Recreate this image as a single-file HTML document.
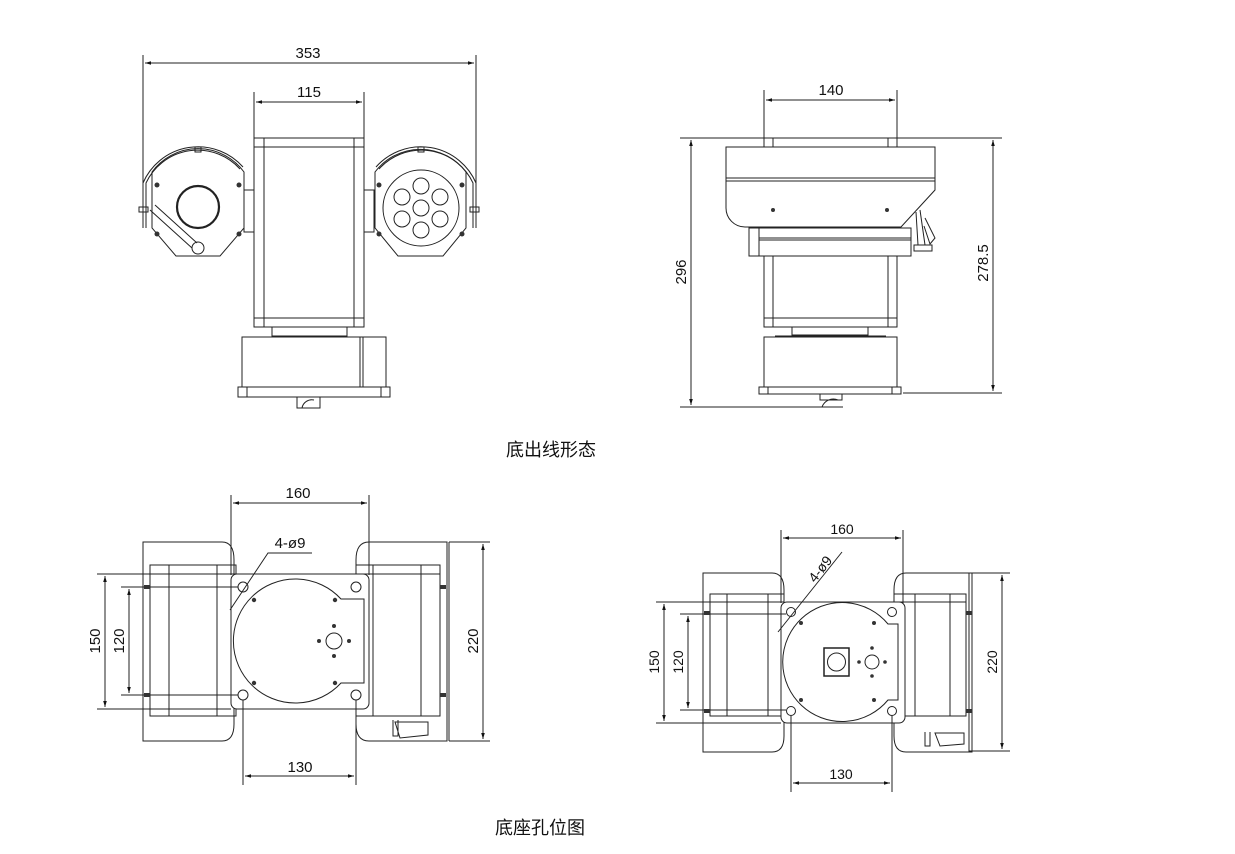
<!DOCTYPE html>
<html><head><meta charset="utf-8"><style>
html,body{margin:0;padding:0;background:#fff}
svg{display:block}
text{font-family:"Liberation Sans","Noto Sans CJK SC",sans-serif;fill:#111}
</style></head><body>
<svg width="1235" height="854" viewBox="0 0 1235 854" xmlns="http://www.w3.org/2000/svg">
<defs>
<marker id="a" viewBox="0 0 10 10" refX="10" refY="5" markerWidth="10" markerHeight="6" orient="auto-start-reverse" markerUnits="userSpaceOnUse"><path d="M0,2 L10,5 L0,8 z" fill="#111"/></marker>
</defs>
<g fill="none" stroke="#222" stroke-width="1">
<!-- ===== FRONT VIEW ===== -->
<line x1="143" y1="55" x2="143" y2="228"/><line x1="476" y1="55" x2="476" y2="228"/>
<line x1="145" y1="63" x2="474" y2="63" marker-start="url(#a)" marker-end="url(#a)"/>
<line x1="254" y1="92" x2="254" y2="138"/><line x1="364" y1="92" x2="364" y2="138"/>
<line x1="256" y1="102" x2="362" y2="102" marker-start="url(#a)" marker-end="url(#a)"/>
<rect x="254" y="138" width="110" height="189"/>
<line x1="264" y1="138" x2="264" y2="327"/><line x1="354" y1="138" x2="354" y2="327"/>
<line x1="254" y1="147" x2="364" y2="147"/><line x1="254" y1="318" x2="364" y2="318"/>
<rect x="272" y="327" width="75" height="9"/>
<rect x="242" y="337" width="144" height="50"/>
<line x1="360" y1="337" x2="360" y2="387"/><line x1="363" y1="337" x2="363" y2="387"/>
<rect x="238" y="387" width="152" height="10"/>
<line x1="247" y1="387" x2="247" y2="397"/><line x1="381" y1="387" x2="381" y2="397"/>
<rect x="297" y="397" width="23" height="11"/>
<path d="M302,408 A10,10 0 0 1 314,400"/>
<!-- left head -->
<rect x="244" y="190" width="10" height="42"/>
<path d="M152,172 L152,228 L176,256 L220,256 L244,228 L244,172 A57,57 0 0 0 152,172 Z"/>
<path d="M143,228 L143,183 A60,60 0 0 1 243,167" />
<path d="M146,228 L146,183 A57,57 0 0 1 240,169"/>
<rect x="195" y="147" width="6" height="5"/>
<circle cx="198" cy="207" r="21" stroke-width="2.2"/>
<path d="M150,210 L192,248 M155,205 L197,243" />
<circle cx="198" cy="248" r="6"/>
<rect x="139" y="207" width="9" height="5"/>
<!-- right head -->
<rect x="364" y="190" width="10" height="42"/>
<path d="M375,172 L375,228 L398,256 L443,256 L466,228 L466,172 A57,57 0 0 0 375,172 Z"/>
<path d="M476,228 L476,183 A60,60 0 0 0 376,167"/>
<path d="M473,228 L473,183 A57,57 0 0 0 379,169"/>
<rect x="418" y="147" width="6" height="5"/>
<circle cx="421" cy="208" r="38"/>
<circle cx="421" cy="208" r="8"/><circle cx="421" cy="186" r="8"/><circle cx="421" cy="230" r="8"/>
<circle cx="402" cy="197" r="8"/><circle cx="440" cy="197" r="8"/><circle cx="402" cy="219" r="8"/><circle cx="440" cy="219" r="8"/>
<rect x="470" y="207" width="9" height="5"/>
</g>
<g fill="#333">
<circle cx="157" cy="185" r="2.5"/><circle cx="239" cy="185" r="2.5"/><circle cx="157" cy="234" r="2.5"/><circle cx="239" cy="234" r="2.5"/>
<circle cx="379" cy="185" r="2.5"/><circle cx="462" cy="185" r="2.5"/><circle cx="379" cy="234" r="2.5"/><circle cx="462" cy="234" r="2.5"/>
</g>
<text x="308" y="58" font-size="15" text-anchor="middle">353</text>
<text x="309" y="97" font-size="15" text-anchor="middle">115</text>

<!-- ===== SIDE VIEW ===== -->
<g fill="none" stroke="#222" stroke-width="1">
<line x1="764" y1="90" x2="764" y2="138"/><line x1="897" y1="90" x2="897" y2="138"/>
<line x1="766" y1="100" x2="895" y2="100" marker-start="url(#a)" marker-end="url(#a)"/>
<line x1="680" y1="138" x2="1002" y2="138"/>
<line x1="680" y1="407" x2="843" y2="407"/>
<line x1="903" y1="393" x2="1002" y2="393"/>
<line x1="691" y1="140" x2="691" y2="405" marker-start="url(#a)" marker-end="url(#a)"/>
<line x1="993" y1="140" x2="993" y2="391" marker-start="url(#a)" marker-end="url(#a)"/>
<rect x="764" y="138" width="133" height="9"/>
<line x1="773" y1="138" x2="773" y2="147"/><line x1="888" y1="138" x2="888" y2="147"/>
<path d="M726,147 L935,147 L935,190 L901,227 L745,227 A19,19 0 0 1 726,208 Z"/>
<line x1="726" y1="178" x2="935" y2="178"/><line x1="726" y1="181" x2="935" y2="181"/>
<rect x="749" y="228" width="162" height="28"/>
<line x1="759" y1="228" x2="759" y2="256"/><line x1="759" y1="238" x2="911" y2="238"/><line x1="759" y1="240" x2="911" y2="240"/>
<rect x="764" y="256" width="133" height="71"/>
<line x1="773" y1="256" x2="773" y2="327"/><line x1="888" y1="256" x2="888" y2="327"/>
<line x1="764" y1="318" x2="897" y2="318"/>
<rect x="792" y="327" width="76" height="8"/>
<line x1="775" y1="336" x2="886" y2="336"/>
<rect x="764" y="337" width="133" height="50"/>
<rect x="759" y="387" width="142" height="7"/>
<line x1="768" y1="387" x2="768" y2="394"/><line x1="892" y1="387" x2="892" y2="394"/>
<rect x="820" y="394" width="22" height="6"/>
<path d="M822,407 A12,12 0 0 1 838,400"/>
<path d="M916,212 L918,245 M920,210 L925,245 M925,218 L935,238 L930,244 L924,226 M914,245 L932,245 L932,251 L914,251 Z"/>
</g>
<g fill="#333"><circle cx="773" cy="210" r="2"/><circle cx="887" cy="210" r="2"/></g>
<text x="831" y="95" font-size="15" text-anchor="middle">140</text>
<text transform="translate(686,272) rotate(-90)" font-size="15" text-anchor="middle">296</text>
<text transform="translate(988,263) rotate(-90)" font-size="15" text-anchor="middle">278.5</text>

<text x="551" y="456" font-size="18" text-anchor="middle">底出线形态</text>

<!-- ===== BOTTOM VIEW LEFT ===== -->
<g fill="none" stroke="#222" stroke-width="1">
<line x1="231" y1="495" x2="231" y2="575"/><line x1="369" y1="495" x2="369" y2="575"/>
<line x1="233" y1="503" x2="367" y2="503" marker-start="url(#a)" marker-end="url(#a)"/>
<path d="M143,542 L222,542 Q234,542 234,560 L234,724 Q234,741 222,741 L143,741 Z"/>
<path d="M447,542 L369,542 Q356,542 356,560 L356,724 Q356,741 369,741 L447,741 Z"/>
<line x1="449" y1="542" x2="449" y2="741"/>
<rect x="150" y="565" width="86" height="151"/>
<line x1="150" y1="574" x2="236" y2="574"/>
<line x1="169" y1="565" x2="169" y2="716"/><line x1="217" y1="565" x2="217" y2="716"/>
<rect x="356" y="565" width="84" height="151"/>
<line x1="356" y1="574" x2="440" y2="574"/>
<line x1="373" y1="565" x2="373" y2="716"/><line x1="421" y1="565" x2="421" y2="716"/>
<rect x="231" y="574" width="138" height="135" rx="6" fill="#fff"/>
<path d="M341,599 A62,62 0 1 0 341,683 L364,683 L364,599 Z"/>
<circle cx="243" cy="587" r="5"/><circle cx="356" cy="587" r="5"/><circle cx="243" cy="695" r="5"/><circle cx="356" cy="695" r="5"/>
<circle cx="334" cy="641" r="8"/>
<line x1="97" y1="574" x2="231" y2="574"/><line x1="97" y1="709" x2="231" y2="709"/>
<line x1="121" y1="587" x2="238" y2="587"/><line x1="121" y1="695" x2="238" y2="695"/>
<line x1="105" y1="576" x2="105" y2="707" marker-start="url(#a)" marker-end="url(#a)"/>
<line x1="129" y1="589" x2="129" y2="693" marker-start="url(#a)" marker-end="url(#a)"/>
<line x1="449" y1="542" x2="490" y2="542"/><line x1="449" y1="741" x2="490" y2="741"/>
<line x1="483" y1="544" x2="483" y2="739" marker-start="url(#a)" marker-end="url(#a)"/>
<line x1="243" y1="700" x2="243" y2="785"/><line x1="356" y1="700" x2="356" y2="785"/>
<line x1="245" y1="776" x2="354" y2="776" marker-start="url(#a)" marker-end="url(#a)"/>
<path d="M312,553 L268,553 L230,610"/>
<path d="M395,722 L428,722 L428,735 L400,738 Z M393,720 L393,736 L398,736 L398,720"/>
</g>
<g fill="#333">
<circle cx="254" cy="600" r="2.2"/><circle cx="335" cy="600" r="2.2"/><circle cx="254" cy="683" r="2.2"/><circle cx="335" cy="683" r="2.2"/>
<circle cx="334" cy="626" r="2"/><circle cx="334" cy="656" r="2"/><circle cx="319" cy="641" r="2"/><circle cx="349" cy="641" r="2"/>
<rect x="144" y="585" width="6" height="4"/><rect x="144" y="693" width="6" height="4"/>
<rect x="440" y="585" width="6" height="4"/><rect x="440" y="693" width="6" height="4"/>
</g>
<text x="298" y="498" font-size="15" text-anchor="middle">160</text>
<text x="290" y="548" font-size="15" text-anchor="middle">4-ø9</text>
<text transform="translate(100,641) rotate(-90)" font-size="15" text-anchor="middle">150</text>
<text transform="translate(124,641) rotate(-90)" font-size="15" text-anchor="middle">120</text>
<text transform="translate(478,641) rotate(-90)" font-size="15" text-anchor="middle">220</text>
<text x="300" y="772" font-size="15" text-anchor="middle">130</text>

<!-- ===== BOTTOM VIEW RIGHT ===== -->
<g fill="none" stroke="#222" stroke-width="1">
<line x1="781" y1="530" x2="781" y2="603"/><line x1="903" y1="530" x2="903" y2="603"/>
<line x1="783" y1="538" x2="901" y2="538" marker-start="url(#a)" marker-end="url(#a)"/>
<path d="M703,573 L772,573 Q784,573 784,590 L784,736 Q784,752 772,752 L703,752 Z"/>
<path d="M972,573 L906,573 Q894,573 894,590 L894,736 Q894,752 906,752 L972,752 Z"/>
<line x1="969" y1="573" x2="969" y2="752"/>
<rect x="710" y="594" width="74" height="122"/>
<line x1="710" y1="602" x2="784" y2="602"/>
<line x1="727" y1="594" x2="727" y2="716"/><line x1="768" y1="594" x2="768" y2="716"/>
<rect x="894" y="594" width="72" height="122"/>
<line x1="894" y1="602" x2="966" y2="602"/>
<line x1="950" y1="594" x2="950" y2="716"/><line x1="915" y1="594" x2="915" y2="716"/>
<rect x="781" y="602" width="124" height="121" rx="6" fill="#fff"/>
<path d="M888,624 A59.5,59.5 0 1 0 888,700 L898,700 L898,624 Z"/>
<circle cx="791" cy="612" r="4.5"/><circle cx="892" cy="612" r="4.5"/><circle cx="791" cy="711" r="4.5"/><circle cx="892" cy="711" r="4.5"/>
<circle cx="872" cy="662" r="7"/>
<rect x="824" y="648" width="25" height="28" stroke-width="1.5"/>
<circle cx="836.5" cy="662" r="9"/>
<line x1="656" y1="602" x2="781" y2="602"/><line x1="656" y1="723" x2="781" y2="723"/>
<line x1="680" y1="614" x2="786" y2="614"/><line x1="680" y1="710" x2="786" y2="710"/>
<line x1="664" y1="604" x2="664" y2="721" marker-start="url(#a)" marker-end="url(#a)"/>
<line x1="688" y1="616" x2="688" y2="708" marker-start="url(#a)" marker-end="url(#a)"/>
<line x1="969" y1="573" x2="1010" y2="573"/><line x1="969" y1="751" x2="1010" y2="751"/>
<line x1="1002" y1="575" x2="1002" y2="749" marker-start="url(#a)" marker-end="url(#a)"/>
<line x1="791" y1="716" x2="791" y2="792"/><line x1="892" y1="716" x2="892" y2="792"/>
<line x1="793" y1="783" x2="890" y2="783" marker-start="url(#a)" marker-end="url(#a)"/>
<line x1="842" y1="552" x2="778" y2="632"/>
<path d="M935,733 L964,733 L964,744 L940,746 Z M925,732 L925,746 L930,746 L930,732"/>
</g>
<g fill="#333">
<circle cx="801" cy="623" r="2"/><circle cx="874" cy="623" r="2"/><circle cx="801" cy="700" r="2"/><circle cx="874" cy="700" r="2"/>
<circle cx="872" cy="648" r="1.8"/><circle cx="872" cy="676" r="1.8"/><circle cx="859" cy="662" r="1.8"/><circle cx="885" cy="662" r="1.8"/>
<rect x="704" y="611" width="6" height="4"/><rect x="704" y="709" width="6" height="4"/>
<rect x="966" y="611" width="6" height="4"/><rect x="966" y="709" width="6" height="4"/>
</g>
<text x="842" y="534" font-size="14" text-anchor="middle">160</text>
<text transform="translate(824,572) rotate(-52)" font-size="14" text-anchor="middle">4-ø9</text>
<text transform="translate(659,662) rotate(-90)" font-size="14" text-anchor="middle">150</text>
<text transform="translate(683,662) rotate(-90)" font-size="14" text-anchor="middle">120</text>
<text transform="translate(997,662) rotate(-90)" font-size="14" text-anchor="middle">220</text>
<text x="841" y="779" font-size="14" text-anchor="middle">130</text>

<text x="540" y="834" font-size="18" text-anchor="middle">底座孔位图</text>
</svg>
</body></html>
